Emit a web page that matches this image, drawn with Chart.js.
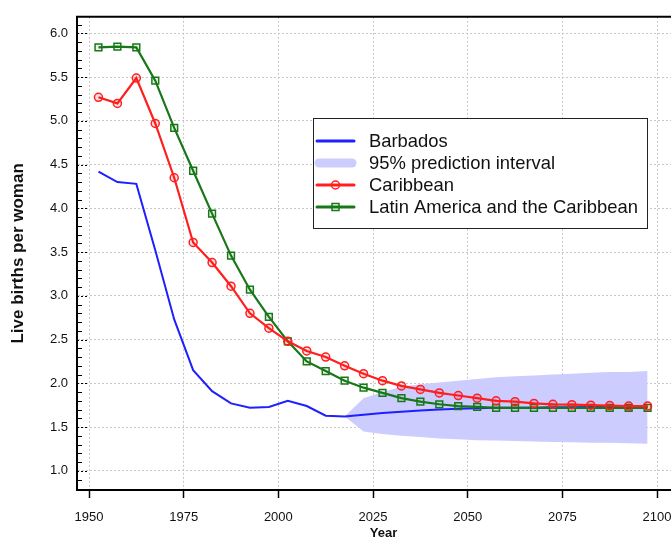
<!DOCTYPE html>
<html>
<head>
<meta charset="utf-8">
<script src="https://cdn.jsdelivr.net/npm/chart.js@4"></script>
<style>
  html, body { margin: 0; padding: 0; background: #fff; overflow: hidden; }
  #wrap { position: absolute; left: 0; top: 0; width: 700px; height: 541px; }
</style>
</head>
<body>
<div id="wrap"><canvas id="chart" width="700" height="541"></canvas></div>
<script>
// period midpoints (5-year periods)
const years = [1952.5, 1957.5, 1962.5, 1967.5, 1972.5, 1977.5, 1982.5, 1987.5, 1992.5, 1997.5,
  2002.5, 2007.5, 2012.5, 2017.5, 2022.5, 2027.5, 2032.5, 2037.5, 2042.5, 2047.5,
  2052.5, 2057.5, 2062.5, 2067.5, 2072.5, 2077.5, 2082.5, 2087.5, 2092.5, 2097.5];

const barbados = [4.42, 4.30, 4.28, 3.52, 2.73, 2.15, 1.91, 1.77, 1.72, 1.73,
  1.80, 1.74, 1.63, 1.62, 1.64, 1.66, 1.675, 1.69, 1.70, 1.71,
  1.715, 1.72, 1.72, 1.72, 1.725, 1.725, 1.73, 1.73, 1.73, 1.73];

const caribbean = [5.27, 5.20, 5.49, 4.97, 4.35, 3.61, 3.38, 3.11, 2.80, 2.63,
  2.48, 2.37, 2.30, 2.20, 2.11, 2.03, 1.97, 1.93, 1.89, 1.86,
  1.83, 1.80, 1.79, 1.77, 1.76, 1.755, 1.75, 1.745, 1.74, 1.74];

const latinAmerica = [5.84, 5.85, 5.84, 5.46, 4.92, 4.43, 3.94, 3.46, 3.07, 2.76,
  2.48, 2.25, 2.14, 2.03, 1.95, 1.89, 1.83, 1.79, 1.76, 1.74,
  1.73, 1.72, 1.72, 1.72, 1.72, 1.72, 1.72, 1.72, 1.72, 1.72];

// 95% prediction interval (projection only)
const piUpper = [null, null, null, null, null, null, null, null, null, null,
  null, null, null, 1.62, 1.83, 1.90, 1.96, 1.99, 2.01, 2.03,
  2.05, 2.07, 2.08, 2.09, 2.10, 2.11, 2.12, 2.13, 2.13, 2.14];
const piLower = [null, null, null, null, null, null, null, null, null, null,
  null, null, null, 1.62, 1.45, 1.42, 1.40, 1.385, 1.37, 1.36,
  1.35, 1.345, 1.34, 1.335, 1.33, 1.325, 1.32, 1.32, 1.315, 1.31];

const xTicks = [1950, 1975, 2000, 2025, 2050, 2075, 2100];
const yTicks = [1.0, 1.5, 2.0, 2.5, 3.0, 3.5, 4.0, 4.5, 5.0, 5.5, 6.0];

const FONT = "'Liberation Sans', Arial, Helvetica, sans-serif";
const BLUE = '#1f1fff';
const RED = '#ff1f1f';
const GREEN = '#187818';
const BAND = 'rgb(204, 204, 255)';

const pts = arr => years.map((x, i) => ({ x: x, y: arr[i] }));

// minor ticks on y axis, top frame line
const framePlugin = {
  id: 'frame',
  afterDraw(chart) {
    const { ctx, chartArea } = chart;
    const y = chart.scales.y;
    ctx.save();
    ctx.strokeStyle = '#000';
    ctx.lineWidth = 1;
    const step = (yTicks[1] - yTicks[0]) / 5;
    for (let v = yTicks[0] - 2 * step; v <= y.max; v += step) {
      const py = Math.round(y.getPixelForValue(v)) + 0.5;
      if (py < chartArea.top + 2 || py > chartArea.bottom - 2) continue;
      const major = yTicks.some(t => Math.abs(t - v) < 1e-6);
      ctx.beginPath();
      if (major) { ctx.setLineDash([2, 2]); ctx.moveTo(chartArea.left, py); ctx.lineTo(chartArea.left + 10, py); }
      else { ctx.setLineDash([]); ctx.moveTo(chartArea.left, py); ctx.lineTo(chartArea.left + 5, py); }
      ctx.stroke();
    }
    ctx.setLineDash([]);
    ctx.lineWidth = 2;
    ctx.beginPath();
    ctx.moveTo(chartArea.left - 1, chartArea.top);
    ctx.lineTo(chartArea.right, chartArea.top);
    ctx.stroke();
    ctx.restore();
  }
};

// legend box drawn inside the plot area
const legendPlugin = {
  id: 'boxLegend',
  afterDraw(chart) {
    const { ctx } = chart;
    const bx = 313.5, by = 118.5, bw = 334, bh = 110;
    ctx.save();
    ctx.fillStyle = '#fff';
    ctx.fillRect(bx, by, bw, bh);
    ctx.strokeStyle = '#222';
    ctx.lineWidth = 1;
    ctx.strokeRect(bx, by, bw, bh);
    const rows = [
      { label: 'Barbados', kind: 'line', color: BLUE },
      { label: '95% prediction interval', kind: 'band', color: BAND },
      { label: 'Caribbean', kind: 'circle', color: RED },
      { label: 'Latin America and the Caribbean', kind: 'rect', color: GREEN }
    ];
    const x0 = 317, x1 = 354, xm = (x0 + x1) / 2;
    ctx.font = '18.4px ' + FONT;
    ctx.textBaseline = 'middle';
    rows.forEach((r, i) => {
      const yy = 141 + i * 22;
      if (r.kind === 'band') {
        ctx.strokeStyle = r.color; ctx.lineWidth = 9; ctx.lineCap = 'round';
        ctx.beginPath(); ctx.moveTo(x0 + 2, yy); ctx.lineTo(x1 - 2, yy); ctx.stroke();
      } else {
        ctx.strokeStyle = r.color; ctx.lineWidth = 3; ctx.lineCap = 'round';
        ctx.beginPath(); ctx.moveTo(x0, yy); ctx.lineTo(x1, yy); ctx.stroke();
        ctx.lineWidth = 1.5;
        if (r.kind === 'circle') {
          ctx.beginPath(); ctx.arc(xm, yy, 4, 0, Math.PI * 2); ctx.stroke();
        } else if (r.kind === 'rect') {
          ctx.strokeRect(xm - 3.5, yy - 3.5, 7, 7);
        }
      }
      ctx.fillStyle = '#111';
      ctx.fillText(r.label, 369, yy + 1);
    });
    ctx.restore();
  }
};

new Chart(document.getElementById('chart'), {
  type: 'line',
  data: {
    datasets: [
      { label: 'Caribbean', data: pts(caribbean), borderColor: RED, borderWidth: 2.2,
        pointStyle: 'circle', pointRadius: 4, pointBorderWidth: 1.5,
        pointBackgroundColor: 'rgba(255,0,0,0.12)', pointBorderColor: RED, order: 1 },
      { label: 'Latin America and the Caribbean', data: pts(latinAmerica), borderColor: GREEN, borderWidth: 2.2,
        pointStyle: 'rect', pointRadius: 4.8, pointBorderWidth: 1.5,
        pointBackgroundColor: 'rgba(0,120,0,0.08)', pointBorderColor: GREEN, order: 2 },
      { label: 'Barbados', data: pts(barbados), borderColor: BLUE, borderWidth: 2,
        pointRadius: 0, order: 3 },
      { label: 'lower', data: pts(piLower), borderWidth: 0, borderColor: 'rgba(0,0,0,0)',
        pointRadius: 0, fill: false, order: 5 },
      { label: '95% prediction interval', data: pts(piUpper), borderWidth: 0, borderColor: 'rgba(0,0,0,0)',
        backgroundColor: BAND, pointRadius: 0, fill: '-1', order: 4 }
    ]
  },
  options: {
    responsive: false,
    animation: false,
    devicePixelRatio: 1,
    layout: { padding: { top: 8, right: 10, left: 0, bottom: 0 } },
    plugins: { legend: { display: false }, tooltip: { enabled: false } },
    elements: { line: { tension: 0 } },
    scales: {
      x: {
        type: 'linear',
        min: 1946.83,
        max: 2108.7,
        afterFit(scale) { scale.height = 51; },
        afterBuildTicks(scale) { scale.ticks = xTicks.map(v => ({ value: v })); },
        ticks: { color: '#111', font: { family: FONT, size: 13 }, padding: 12, maxRotation: 0,
          callback: v => String(v) },
        grid: { color: '#c8c8c8', lineWidth: 1, tickColor: '#000', tickLength: 8, tickWidth: 1.5,
          tickBorderDash: [] },
        border: { display: true, color: '#000', width: 2, dash: [2, 2] },
        title: { display: true, text: 'Year', color: '#111',
          font: { family: FONT, size: 13, weight: 'bold' }, padding: { top: 1, bottom: 0 } }
      },
      y: {
        type: 'linear',
        min: 0.78,
        max: 6.19,
        afterFit(scale) { scale.width = 77; },
        afterBuildTicks(scale) { scale.ticks = yTicks.map(v => ({ value: v })); },
        ticks: { color: '#111', font: { family: FONT, size: 13 }, padding: 9,
          callback: v => Number(v).toFixed(1) },
        grid: { color: '#c8c8c8', lineWidth: 1, drawTicks: false },
        border: { display: true, color: '#000', width: 2, dash: [2, 2] },
        title: { display: true, text: 'Live births per woman', color: '#111',
          font: { family: FONT, size: 17, weight: 'bold' }, padding: { top: 8, bottom: 0 } }
      }
    }
  },
  plugins: [framePlugin, legendPlugin]
});
</script>
</body>
</html>
